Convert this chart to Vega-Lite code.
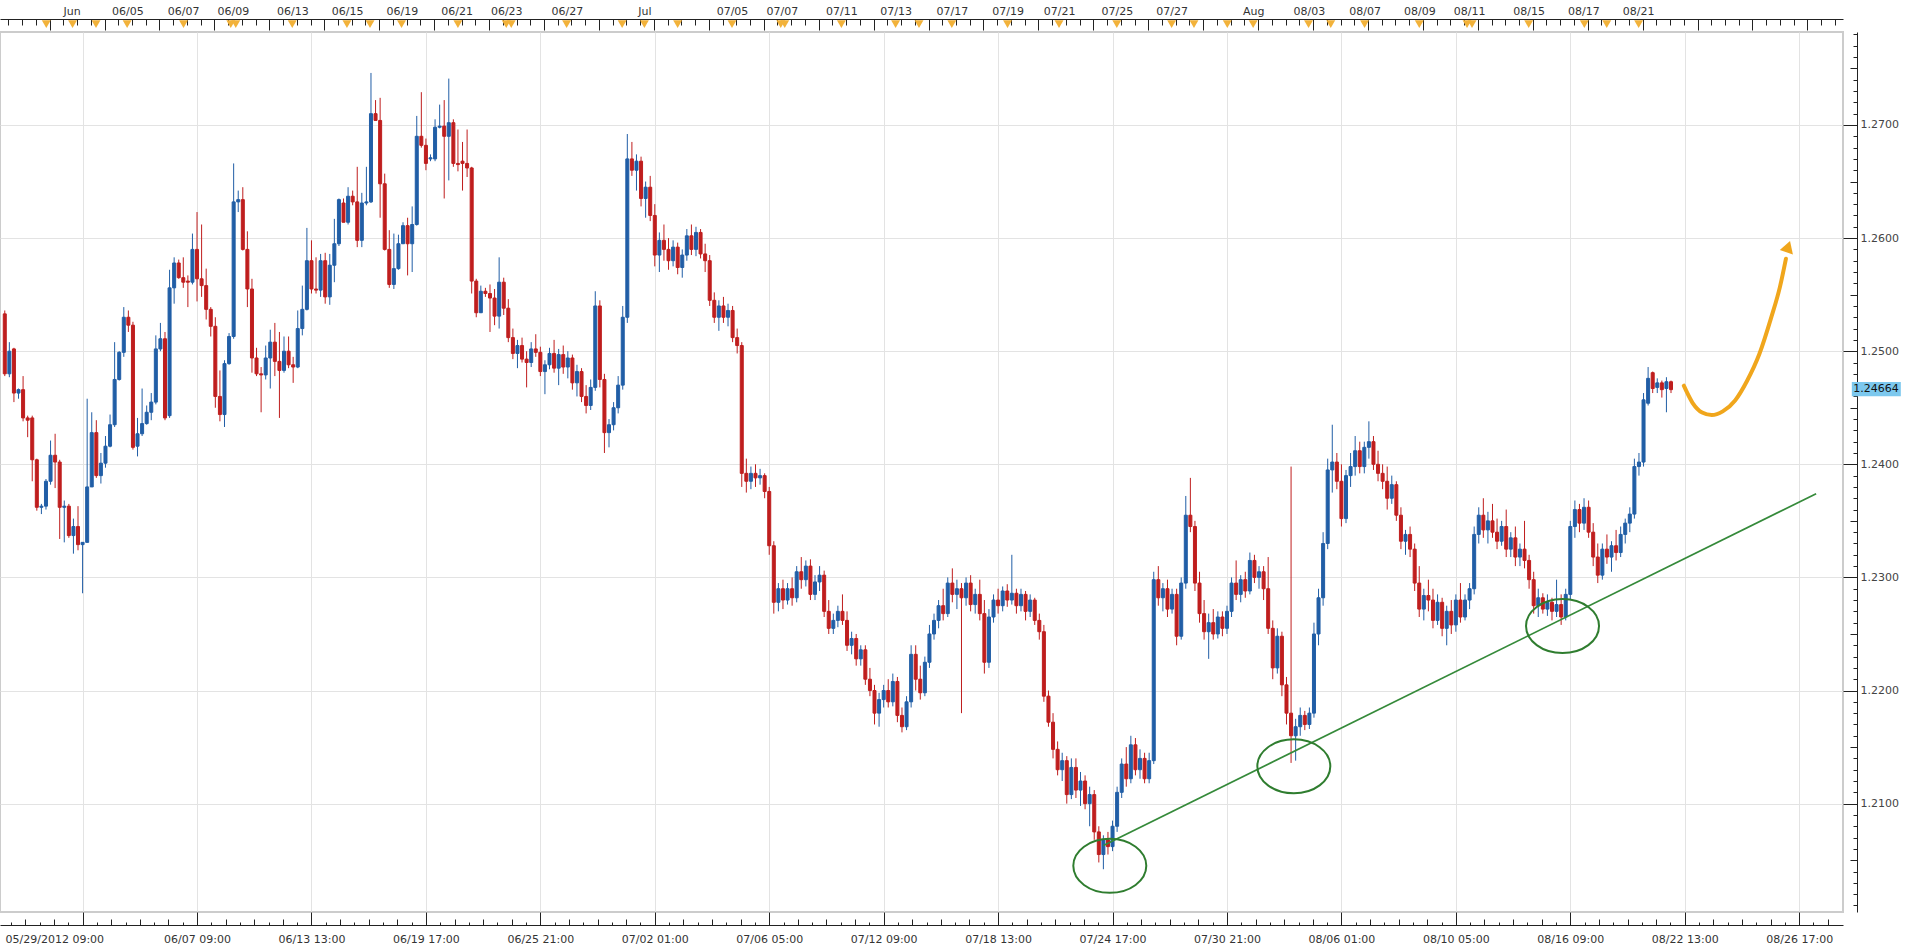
{
"$schema": "https://vega.github.io/schema/vega-lite/v6.json",
"width": 1843, "height": 880,
"autosize": {"type": "none"},
"padding": {"left": 0, "top": 32, "right": 71, "bottom": 38},
"background": "white",
"config": {"view": {"stroke": "#cccccc", "strokeWidth": 2}, "axis": {"labelFont": "DejaVu Sans", "labelFontSize": 11, "labelColor": "#333333", "domainColor": "#222222", "tickColor": "#222222", "gridColor": "#e3e3e3", "title": null, "labelOverlap": false}},
"datasets": {
"candles": [
{"i":0,"o":1.2533,"h":1.2536,"l":1.2478,"c":1.2480},
{"i":1,"o":1.2480,"h":1.2508,"l":1.2477,"c":1.2500},
{"i":2,"o":1.2502,"h":1.2503,"l":1.2455,"c":1.2463},
{"i":3,"o":1.2463,"h":1.2467,"l":1.2458,"c":1.2466},
{"i":4,"o":1.2466,"h":1.2478,"l":1.2438,"c":1.2441},
{"i":5,"o":1.2441,"h":1.2443,"l":1.2424,"c":1.2439},
{"i":6,"o":1.2441,"h":1.2443,"l":1.2385,"c":1.2404},
{"i":7,"o":1.2404,"h":1.2405,"l":1.2359,"c":1.2362},
{"i":8,"o":1.2362,"h":1.2365,"l":1.2356,"c":1.2363},
{"i":9,"o":1.2363,"h":1.2387,"l":1.2360,"c":1.2385},
{"i":10,"o":1.2385,"h":1.2421,"l":1.2382,"c":1.2408},
{"i":11,"o":1.2408,"h":1.2427,"l":1.2379,"c":1.2402},
{"i":12,"o":1.2402,"h":1.2404,"l":1.2334,"c":1.2362},
{"i":13,"o":1.2362,"h":1.2368,"l":1.2331,"c":1.2363},
{"i":14,"o":1.2363,"h":1.2365,"l":1.2335,"c":1.2337},
{"i":15,"o":1.2337,"h":1.2352,"l":1.2321,"c":1.2345},
{"i":16,"o":1.2345,"h":1.2363,"l":1.2324,"c":1.2329},
{"i":17,"o":1.2329,"h":1.2331,"l":1.2286,"c":1.2331},
{"i":18,"o":1.2331,"h":1.2458,"l":1.2331,"c":1.2380},
{"i":19,"o":1.2380,"h":1.2446,"l":1.2380,"c":1.2428},
{"i":20,"o":1.2428,"h":1.2439,"l":1.2388,"c":1.2390},
{"i":21,"o":1.2390,"h":1.2410,"l":1.2383,"c":1.2401},
{"i":22,"o":1.2401,"h":1.2425,"l":1.2397,"c":1.2416},
{"i":23,"o":1.2416,"h":1.2444,"l":1.2415,"c":1.2435},
{"i":24,"o":1.2435,"h":1.2508,"l":1.2433,"c":1.2475},
{"i":25,"o":1.2475,"h":1.2500,"l":1.2474,"c":1.2499},
{"i":26,"o":1.2499,"h":1.2539,"l":1.2495,"c":1.2530},
{"i":27,"o":1.2530,"h":1.2536,"l":1.2517,"c":1.2523},
{"i":28,"o":1.2523,"h":1.2526,"l":1.2413,"c":1.2415},
{"i":29,"o":1.2416,"h":1.2441,"l":1.2407,"c":1.2427},
{"i":30,"o":1.2427,"h":1.2467,"l":1.2425,"c":1.2436},
{"i":31,"o":1.2436,"h":1.2452,"l":1.2435,"c":1.2446},
{"i":32,"o":1.2446,"h":1.2463,"l":1.2439,"c":1.2455},
{"i":33,"o":1.2455,"h":1.2514,"l":1.2453,"c":1.2502},
{"i":34,"o":1.2502,"h":1.2525,"l":1.2500,"c":1.2511},
{"i":35,"o":1.2511,"h":1.2517,"l":1.2439,"c":1.2441},
{"i":36,"o":1.2443,"h":1.2572,"l":1.2441,"c":1.2556},
{"i":37,"o":1.2556,"h":1.2583,"l":1.2542,"c":1.2578},
{"i":38,"o":1.2578,"h":1.2581,"l":1.2564,"c":1.2565},
{"i":39,"o":1.2565,"h":1.2583,"l":1.2556,"c":1.2561},
{"i":40,"o":1.2562,"h":1.2567,"l":1.2539,"c":1.2561},
{"i":41,"o":1.2561,"h":1.2604,"l":1.2559,"c":1.2590},
{"i":42,"o":1.2590,"h":1.2623,"l":1.2544,"c":1.2564},
{"i":43,"o":1.2564,"h":1.2612,"l":1.2548,"c":1.2558},
{"i":44,"o":1.2558,"h":1.2573,"l":1.2528,"c":1.2537},
{"i":45,"o":1.2537,"h":1.2539,"l":1.2513,"c":1.2522},
{"i":46,"o":1.2522,"h":1.2530,"l":1.2450,"c":1.2460},
{"i":47,"o":1.2460,"h":1.2483,"l":1.2438,"c":1.2444},
{"i":48,"o":1.2444,"h":1.2492,"l":1.2433,"c":1.2489},
{"i":49,"o":1.2489,"h":1.2516,"l":1.2488,"c":1.2513},
{"i":50,"o":1.2513,"h":1.2666,"l":1.2511,"c":1.2632},
{"i":51,"o":1.2632,"h":1.2642,"l":1.2623,"c":1.2634},
{"i":52,"o":1.2634,"h":1.2645,"l":1.2589,"c":1.2590},
{"i":53,"o":1.2590,"h":1.2606,"l":1.2539,"c":1.2555},
{"i":54,"o":1.2555,"h":1.2564,"l":1.2481,"c":1.2494},
{"i":55,"o":1.2494,"h":1.2503,"l":1.2478,"c":1.2480},
{"i":56,"o":1.2480,"h":1.2486,"l":1.2446,"c":1.2479},
{"i":57,"o":1.2479,"h":1.2505,"l":1.2475,"c":1.2494},
{"i":58,"o":1.2494,"h":1.2519,"l":1.2467,"c":1.2508},
{"i":59,"o":1.2508,"h":1.2525,"l":1.2478,"c":1.2491},
{"i":60,"o":1.2491,"h":1.2517,"l":1.2441,"c":1.2483},
{"i":61,"o":1.2483,"h":1.2513,"l":1.2481,"c":1.2500},
{"i":62,"o":1.2500,"h":1.2513,"l":1.2485,"c":1.2488},
{"i":63,"o":1.2488,"h":1.2495,"l":1.2472,"c":1.2486},
{"i":64,"o":1.2486,"h":1.2536,"l":1.2485,"c":1.2520},
{"i":65,"o":1.2520,"h":1.2558,"l":1.2514,"c":1.2537},
{"i":66,"o":1.2537,"h":1.2609,"l":1.2536,"c":1.2580},
{"i":67,"o":1.2580,"h":1.2598,"l":1.2551,"c":1.2555},
{"i":68,"o":1.2555,"h":1.2583,"l":1.2551,"c":1.2554},
{"i":69,"o":1.2554,"h":1.2586,"l":1.2548,"c":1.2580},
{"i":70,"o":1.2580,"h":1.2587,"l":1.2542,"c":1.2548},
{"i":71,"o":1.2548,"h":1.2586,"l":1.2541,"c":1.2576},
{"i":72,"o":1.2576,"h":1.2617,"l":1.2561,"c":1.2595},
{"i":73,"o":1.2595,"h":1.2635,"l":1.2593,"c":1.2634},
{"i":74,"o":1.2631,"h":1.2635,"l":1.2614,"c":1.2614},
{"i":75,"o":1.2614,"h":1.2645,"l":1.2612,"c":1.2637},
{"i":76,"o":1.2637,"h":1.2642,"l":1.2629,"c":1.2632},
{"i":77,"o":1.2632,"h":1.2663,"l":1.2592,"c":1.2598},
{"i":78,"o":1.2598,"h":1.2640,"l":1.2592,"c":1.2631},
{"i":79,"o":1.2631,"h":1.2663,"l":1.2629,"c":1.2632},
{"i":80,"o":1.2632,"h":1.2746,"l":1.2631,"c":1.2710},
{"i":81,"o":1.2710,"h":1.2722,"l":1.2704,"c":1.2704},
{"i":82,"o":1.2704,"h":1.2724,"l":1.2618,"c":1.2648},
{"i":83,"o":1.2648,"h":1.2657,"l":1.2589,"c":1.2590},
{"i":84,"o":1.2590,"h":1.2607,"l":1.2556,"c":1.2559},
{"i":85,"o":1.2559,"h":1.2604,"l":1.2555,"c":1.2573},
{"i":86,"o":1.2573,"h":1.2603,"l":1.2572,"c":1.2595},
{"i":87,"o":1.2595,"h":1.2614,"l":1.2595,"c":1.2611},
{"i":88,"o":1.2611,"h":1.2618,"l":1.2567,"c":1.2595},
{"i":89,"o":1.2595,"h":1.2628,"l":1.2570,"c":1.2612},
{"i":90,"o":1.2612,"h":1.2708,"l":1.2611,"c":1.2690},
{"i":91,"o":1.2690,"h":1.2729,"l":1.2680,"c":1.2682},
{"i":92,"o":1.2682,"h":1.2688,"l":1.2660,"c":1.2666},
{"i":93,"o":1.2670,"h":1.2674,"l":1.2668,"c":1.2671},
{"i":94,"o":1.2670,"h":1.2705,"l":1.2668,"c":1.2698},
{"i":95,"o":1.2698,"h":1.2718,"l":1.2697,"c":1.2699},
{"i":96,"o":1.2699,"h":1.2722,"l":1.2635,"c":1.2690},
{"i":97,"o":1.2690,"h":1.2741,"l":1.2651,"c":1.2702},
{"i":98,"o":1.2702,"h":1.2705,"l":1.2663,"c":1.2666},
{"i":99,"o":1.2666,"h":1.2696,"l":1.2659,"c":1.2665},
{"i":100,"o":1.2668,"h":1.2685,"l":1.2642,"c":1.2666},
{"i":101,"o":1.2666,"h":1.2696,"l":1.2654,"c":1.2662},
{"i":102,"o":1.2662,"h":1.2663,"l":1.2551,"c":1.2562},
{"i":103,"o":1.2562,"h":1.2564,"l":1.2530,"c":1.2534},
{"i":104,"o":1.2534,"h":1.2558,"l":1.2534,"c":1.2553},
{"i":105,"o":1.2553,"h":1.2556,"l":1.2548,"c":1.2551},
{"i":106,"o":1.2551,"h":1.2559,"l":1.2517,"c":1.2547},
{"i":107,"o":1.2547,"h":1.2555,"l":1.2523,"c":1.2531},
{"i":108,"o":1.2531,"h":1.2583,"l":1.2520,"c":1.2561},
{"i":109,"o":1.2561,"h":1.2565,"l":1.2532,"c":1.2538},
{"i":110,"o":1.2538,"h":1.2546,"l":1.2508,"c":1.2512},
{"i":111,"o":1.2512,"h":1.2520,"l":1.2493,"c":1.2498},
{"i":112,"o":1.2498,"h":1.2510,"l":1.2485,"c":1.2505},
{"i":113,"o":1.2505,"h":1.2512,"l":1.2490,"c":1.2493},
{"i":114,"o":1.2493,"h":1.2500,"l":1.2468,"c":1.2490},
{"i":115,"o":1.2490,"h":1.2508,"l":1.2486,"c":1.2502},
{"i":116,"o":1.2502,"h":1.2515,"l":1.2495,"c":1.2499},
{"i":117,"o":1.2499,"h":1.2504,"l":1.2478,"c":1.2482},
{"i":118,"o":1.2482,"h":1.2492,"l":1.2462,"c":1.2488},
{"i":119,"o":1.2488,"h":1.2503,"l":1.2484,"c":1.2498},
{"i":120,"o":1.2498,"h":1.2510,"l":1.2481,"c":1.2485},
{"i":121,"o":1.2485,"h":1.2502,"l":1.2470,"c":1.2497},
{"i":122,"o":1.2497,"h":1.2505,"l":1.2480,"c":1.2486},
{"i":123,"o":1.2486,"h":1.2500,"l":1.2476,"c":1.2494},
{"i":124,"o":1.2494,"h":1.2497,"l":1.2466,"c":1.2472},
{"i":125,"o":1.2472,"h":1.2488,"l":1.2460,"c":1.2482},
{"i":126,"o":1.2482,"h":1.2485,"l":1.2455,"c":1.2460},
{"i":127,"o":1.2460,"h":1.2470,"l":1.2445,"c":1.2452},
{"i":128,"o":1.2452,"h":1.2475,"l":1.2448,"c":1.2468},
{"i":129,"o":1.2468,"h":1.2553,"l":1.2465,"c":1.2540},
{"i":130,"o":1.2540,"h":1.2545,"l":1.2468,"c":1.2475},
{"i":131,"o":1.2475,"h":1.2480,"l":1.2410,"c":1.2428},
{"i":132,"o":1.2428,"h":1.2440,"l":1.2415,"c":1.2435},
{"i":133,"o":1.2435,"h":1.2455,"l":1.2430,"c":1.2450},
{"i":134,"o":1.2450,"h":1.2478,"l":1.2445,"c":1.2470},
{"i":135,"o":1.2470,"h":1.2540,"l":1.2466,"c":1.2530},
{"i":136,"o":1.2530,"h":1.2692,"l":1.2525,"c":1.2670},
{"i":137,"o":1.2670,"h":1.2685,"l":1.2655,"c":1.2660},
{"i":138,"o":1.2660,"h":1.2674,"l":1.2642,"c":1.2668},
{"i":139,"o":1.2668,"h":1.2672,"l":1.2628,"c":1.2635},
{"i":140,"o":1.2635,"h":1.2650,"l":1.2618,"c":1.2645},
{"i":141,"o":1.2645,"h":1.2655,"l":1.2615,"c":1.2620},
{"i":142,"o":1.2620,"h":1.2630,"l":1.2575,"c":1.2585},
{"i":143,"o":1.2585,"h":1.2605,"l":1.2570,"c":1.2598},
{"i":144,"o":1.2598,"h":1.2612,"l":1.2580,"c":1.2590},
{"i":145,"o":1.2590,"h":1.2600,"l":1.2572,"c":1.2580},
{"i":146,"o":1.2580,"h":1.2598,"l":1.2575,"c":1.2592},
{"i":147,"o":1.2592,"h":1.2596,"l":1.2568,"c":1.2574},
{"i":148,"o":1.2574,"h":1.2590,"l":1.2565,"c":1.2585},
{"i":149,"o":1.2585,"h":1.2608,"l":1.2580,"c":1.2602},
{"i":150,"o":1.2602,"h":1.2612,"l":1.2585,"c":1.2590},
{"i":151,"o":1.2590,"h":1.2610,"l":1.2584,"c":1.2605},
{"i":152,"o":1.2605,"h":1.2608,"l":1.2582,"c":1.2586},
{"i":153,"o":1.2586,"h":1.2595,"l":1.2570,"c":1.2580},
{"i":154,"o":1.2580,"h":1.2585,"l":1.2540,"c":1.2545},
{"i":155,"o":1.2545,"h":1.2552,"l":1.2525,"c":1.2530},
{"i":156,"o":1.2530,"h":1.2545,"l":1.2518,"c":1.2540},
{"i":157,"o":1.2540,"h":1.2548,"l":1.2525,"c":1.2530},
{"i":158,"o":1.2530,"h":1.2542,"l":1.2522,"c":1.2536},
{"i":159,"o":1.2536,"h":1.2540,"l":1.2508,"c":1.2512},
{"i":160,"o":1.2512,"h":1.2520,"l":1.2498,"c":1.2505},
{"i":161,"o":1.2505,"h":1.2508,"l":1.2380,"c":1.2392},
{"i":162,"o":1.2392,"h":1.2405,"l":1.2375,"c":1.2385},
{"i":163,"o":1.2385,"h":1.2398,"l":1.2378,"c":1.2392},
{"i":164,"o":1.2392,"h":1.2400,"l":1.2380,"c":1.2388},
{"i":165,"o":1.2388,"h":1.2396,"l":1.2382,"c":1.2390},
{"i":166,"o":1.2390,"h":1.2392,"l":1.2370,"c":1.2376},
{"i":167,"o":1.2376,"h":1.2380,"l":1.2320,"c":1.2328},
{"i":168,"o":1.2328,"h":1.2332,"l":1.2268,"c":1.2278},
{"i":169,"o":1.2278,"h":1.2295,"l":1.2270,"c":1.2290},
{"i":170,"o":1.2290,"h":1.2298,"l":1.2272,"c":1.2280},
{"i":171,"o":1.2280,"h":1.2295,"l":1.2276,"c":1.2290},
{"i":172,"o":1.2290,"h":1.2300,"l":1.2275,"c":1.2282},
{"i":173,"o":1.2282,"h":1.2310,"l":1.2278,"c":1.2305},
{"i":174,"o":1.2305,"h":1.2318,"l":1.2290,"c":1.2298},
{"i":175,"o":1.2298,"h":1.2315,"l":1.2292,"c":1.2310},
{"i":176,"o":1.2310,"h":1.2316,"l":1.2280,"c":1.2285},
{"i":177,"o":1.2285,"h":1.2302,"l":1.2280,"c":1.2296},
{"i":178,"o":1.2296,"h":1.2310,"l":1.2288,"c":1.2302},
{"i":179,"o":1.2302,"h":1.2306,"l":1.2265,"c":1.2270},
{"i":180,"o":1.2270,"h":1.2280,"l":1.2250,"c":1.2255},
{"i":181,"o":1.2255,"h":1.2268,"l":1.2250,"c":1.2262},
{"i":182,"o":1.2262,"h":1.2275,"l":1.2256,"c":1.2270},
{"i":183,"o":1.2270,"h":1.2285,"l":1.2258,"c":1.2262},
{"i":184,"o":1.2262,"h":1.2270,"l":1.2235,"c":1.2240},
{"i":185,"o":1.2240,"h":1.2252,"l":1.2232,"c":1.2246},
{"i":186,"o":1.2246,"h":1.2250,"l":1.2222,"c":1.2228},
{"i":187,"o":1.2228,"h":1.2240,"l":1.2222,"c":1.2236},
{"i":188,"o":1.2236,"h":1.2240,"l":1.2205,"c":1.2210},
{"i":189,"o":1.2210,"h":1.2220,"l":1.2195,"c":1.2200},
{"i":190,"o":1.2200,"h":1.2205,"l":1.2170,"c":1.2180},
{"i":191,"o":1.2180,"h":1.2198,"l":1.2168,"c":1.2192},
{"i":192,"o":1.2192,"h":1.2205,"l":1.2185,"c":1.2200},
{"i":193,"o":1.2200,"h":1.2210,"l":1.2185,"c":1.2190},
{"i":194,"o":1.2190,"h":1.2215,"l":1.2186,"c":1.2208},
{"i":195,"o":1.2208,"h":1.2212,"l":1.2172,"c":1.2178},
{"i":196,"o":1.2178,"h":1.2185,"l":1.2163,"c":1.2168},
{"i":197,"o":1.2168,"h":1.2195,"l":1.2165,"c":1.2190},
{"i":198,"o":1.2190,"h":1.2240,"l":1.2185,"c":1.2232},
{"i":199,"o":1.2232,"h":1.2240,"l":1.2200,"c":1.2210},
{"i":200,"o":1.2210,"h":1.2222,"l":1.2192,"c":1.2198},
{"i":201,"o":1.2198,"h":1.2230,"l":1.2195,"c":1.2225},
{"i":202,"o":1.2225,"h":1.2258,"l":1.2220,"c":1.2250},
{"i":203,"o":1.2250,"h":1.2268,"l":1.2245,"c":1.2262},
{"i":204,"o":1.2262,"h":1.2280,"l":1.2255,"c":1.2275},
{"i":205,"o":1.2275,"h":1.2290,"l":1.2262,"c":1.2268},
{"i":206,"o":1.2268,"h":1.2300,"l":1.2265,"c":1.2295},
{"i":207,"o":1.2295,"h":1.2308,"l":1.2278,"c":1.2285},
{"i":208,"o":1.2285,"h":1.2298,"l":1.2272,"c":1.2290},
{"i":209,"o":1.2290,"h":1.2295,"l":1.2180,"c":1.2282},
{"i":210,"o":1.2282,"h":1.2300,"l":1.2275,"c":1.2295},
{"i":211,"o":1.2295,"h":1.2302,"l":1.2270,"c":1.2276},
{"i":212,"o":1.2276,"h":1.2290,"l":1.2268,"c":1.2285},
{"i":213,"o":1.2285,"h":1.2298,"l":1.2262,"c":1.2268},
{"i":214,"o":1.2268,"h":1.2280,"l":1.2215,"c":1.2225},
{"i":215,"o":1.2225,"h":1.2272,"l":1.2220,"c":1.2265},
{"i":216,"o":1.2265,"h":1.2285,"l":1.2260,"c":1.2280},
{"i":217,"o":1.2280,"h":1.2290,"l":1.2268,"c":1.2275},
{"i":218,"o":1.2275,"h":1.2292,"l":1.2270,"c":1.2288},
{"i":219,"o":1.2288,"h":1.2294,"l":1.2274,"c":1.2280},
{"i":220,"o":1.2280,"h":1.2320,"l":1.2276,"c":1.2286},
{"i":221,"o":1.2286,"h":1.2290,"l":1.2268,"c":1.2275},
{"i":222,"o":1.2275,"h":1.2290,"l":1.2270,"c":1.2285},
{"i":223,"o":1.2285,"h":1.2288,"l":1.2262,"c":1.2270},
{"i":224,"o":1.2270,"h":1.2285,"l":1.2265,"c":1.2280},
{"i":225,"o":1.2280,"h":1.2282,"l":1.2258,"c":1.2262},
{"i":226,"o":1.2262,"h":1.2268,"l":1.2245,"c":1.2252},
{"i":227,"o":1.2252,"h":1.2258,"l":1.2190,"c":1.2195},
{"i":228,"o":1.2195,"h":1.2200,"l":1.2168,"c":1.2172},
{"i":229,"o":1.2172,"h":1.2180,"l":1.2140,"c":1.2148},
{"i":230,"o":1.2148,"h":1.2155,"l":1.2125,"c":1.2130},
{"i":231,"o":1.2130,"h":1.2145,"l":1.2120,"c":1.2138},
{"i":232,"o":1.2138,"h":1.2142,"l":1.2100,"c":1.2108},
{"i":233,"o":1.2108,"h":1.2140,"l":1.2104,"c":1.2132},
{"i":234,"o":1.2132,"h":1.2140,"l":1.2105,"c":1.2112},
{"i":235,"o":1.2112,"h":1.2128,"l":1.2098,"c":1.2120},
{"i":236,"o":1.2120,"h":1.2125,"l":1.2095,"c":1.2100},
{"i":237,"o":1.2100,"h":1.2115,"l":1.2080,"c":1.2108},
{"i":238,"o":1.2108,"h":1.2112,"l":1.2068,"c":1.2075},
{"i":239,"o":1.2075,"h":1.2080,"l":1.2048,"c":1.2055},
{"i":240,"o":1.2055,"h":1.2072,"l":1.2042,"c":1.2068},
{"i":241,"o":1.2068,"h":1.2075,"l":1.2055,"c":1.2062},
{"i":242,"o":1.2062,"h":1.2085,"l":1.2058,"c":1.2080},
{"i":243,"o":1.2080,"h":1.2115,"l":1.2075,"c":1.2110},
{"i":244,"o":1.2110,"h":1.2140,"l":1.2105,"c":1.2135},
{"i":245,"o":1.2135,"h":1.2150,"l":1.2115,"c":1.2122},
{"i":246,"o":1.2122,"h":1.2160,"l":1.2118,"c":1.2152},
{"i":247,"o":1.2152,"h":1.2158,"l":1.2125,"c":1.2130},
{"i":248,"o":1.2130,"h":1.2148,"l":1.2122,"c":1.2140},
{"i":249,"o":1.2140,"h":1.2145,"l":1.2118,"c":1.2122},
{"i":250,"o":1.2122,"h":1.2145,"l":1.2118,"c":1.2138},
{"i":251,"o":1.2138,"h":1.2305,"l":1.2135,"c":1.2298},
{"i":252,"o":1.2298,"h":1.2310,"l":1.2275,"c":1.2282},
{"i":253,"o":1.2282,"h":1.2295,"l":1.2270,"c":1.2290},
{"i":254,"o":1.2290,"h":1.2298,"l":1.2265,"c":1.2272},
{"i":255,"o":1.2272,"h":1.2290,"l":1.2268,"c":1.2285},
{"i":256,"o":1.2285,"h":1.2290,"l":1.2240,"c":1.2248},
{"i":257,"o":1.2248,"h":1.2300,"l":1.2245,"c":1.2295},
{"i":258,"o":1.2295,"h":1.2372,"l":1.2290,"c":1.2355},
{"i":259,"o":1.2355,"h":1.2388,"l":1.2340,"c":1.2345},
{"i":260,"o":1.2345,"h":1.2350,"l":1.2288,"c":1.2295},
{"i":261,"o":1.2295,"h":1.2305,"l":1.2260,"c":1.2268},
{"i":262,"o":1.2268,"h":1.2280,"l":1.2245,"c":1.2252},
{"i":263,"o":1.2252,"h":1.2268,"l":1.2228,"c":1.2260},
{"i":264,"o":1.2260,"h":1.2272,"l":1.2245,"c":1.2250},
{"i":265,"o":1.2250,"h":1.2270,"l":1.2246,"c":1.2265},
{"i":266,"o":1.2265,"h":1.2270,"l":1.2248,"c":1.2255},
{"i":267,"o":1.2255,"h":1.2275,"l":1.2250,"c":1.2270},
{"i":268,"o":1.2270,"h":1.2300,"l":1.2265,"c":1.2295},
{"i":269,"o":1.2295,"h":1.2315,"l":1.2280,"c":1.2285},
{"i":270,"o":1.2285,"h":1.2302,"l":1.2278,"c":1.2298},
{"i":271,"o":1.2298,"h":1.2305,"l":1.2282,"c":1.2288},
{"i":272,"o":1.2288,"h":1.2322,"l":1.2285,"c":1.2315},
{"i":273,"o":1.2315,"h":1.2320,"l":1.2295,"c":1.2300},
{"i":274,"o":1.2300,"h":1.2310,"l":1.2290,"c":1.2305},
{"i":275,"o":1.2305,"h":1.2310,"l":1.2280,"c":1.2290},
{"i":276,"o":1.2290,"h":1.2318,"l":1.2250,"c":1.2255},
{"i":277,"o":1.2255,"h":1.2262,"l":1.2210,"c":1.2220},
{"i":278,"o":1.2220,"h":1.2255,"l":1.2215,"c":1.2248},
{"i":279,"o":1.2248,"h":1.2252,"l":1.2195,"c":1.2205},
{"i":280,"o":1.2205,"h":1.2212,"l":1.2170,"c":1.2180},
{"i":281,"o":1.2180,"h":1.2398,"l":1.2136,"c":1.2160},
{"i":282,"o":1.2160,"h":1.2175,"l":1.2138,"c":1.2168},
{"i":283,"o":1.2168,"h":1.2185,"l":1.2160,"c":1.2178},
{"i":284,"o":1.2178,"h":1.2182,"l":1.2165,"c":1.2170},
{"i":285,"o":1.2170,"h":1.2185,"l":1.2166,"c":1.2180},
{"i":286,"o":1.2180,"h":1.2260,"l":1.2176,"c":1.2250},
{"i":287,"o":1.2250,"h":1.2290,"l":1.2240,"c":1.2282},
{"i":288,"o":1.2282,"h":1.2340,"l":1.2275,"c":1.2330},
{"i":289,"o":1.2330,"h":1.2405,"l":1.2325,"c":1.2395},
{"i":290,"o":1.2395,"h":1.2435,"l":1.2375,"c":1.2402},
{"i":291,"o":1.2402,"h":1.2410,"l":1.2378,"c":1.2385},
{"i":292,"o":1.2385,"h":1.2400,"l":1.2345,"c":1.2352},
{"i":293,"o":1.2352,"h":1.2395,"l":1.2348,"c":1.2390},
{"i":294,"o":1.2390,"h":1.2410,"l":1.2380,"c":1.2398},
{"i":295,"o":1.2398,"h":1.2425,"l":1.2390,"c":1.2412},
{"i":296,"o":1.2412,"h":1.2420,"l":1.2392,"c":1.2398},
{"i":297,"o":1.2398,"h":1.2420,"l":1.2392,"c":1.2415},
{"i":298,"o":1.2415,"h":1.2438,"l":1.2405,"c":1.2420},
{"i":299,"o":1.2420,"h":1.2425,"l":1.2395,"c":1.2400},
{"i":300,"o":1.2400,"h":1.2412,"l":1.2385,"c":1.2392},
{"i":301,"o":1.2392,"h":1.2400,"l":1.2378,"c":1.2385},
{"i":302,"o":1.2385,"h":1.2398,"l":1.2360,"c":1.2370},
{"i":303,"o":1.2370,"h":1.2390,"l":1.2365,"c":1.2382},
{"i":304,"o":1.2382,"h":1.2385,"l":1.2350,"c":1.2355},
{"i":305,"o":1.2355,"h":1.2362,"l":1.2325,"c":1.2332},
{"i":306,"o":1.2332,"h":1.2342,"l":1.2320,"c":1.2338},
{"i":307,"o":1.2338,"h":1.2345,"l":1.2318,"c":1.2325},
{"i":308,"o":1.2325,"h":1.2330,"l":1.2288,"c":1.2295},
{"i":309,"o":1.2295,"h":1.2310,"l":1.2265,"c":1.2272},
{"i":310,"o":1.2272,"h":1.2290,"l":1.2262,"c":1.2284},
{"i":311,"o":1.2284,"h":1.2298,"l":1.2270,"c":1.2280},
{"i":312,"o":1.2280,"h":1.2290,"l":1.2255,"c":1.2262},
{"i":313,"o":1.2262,"h":1.2285,"l":1.2258,"c":1.2278},
{"i":314,"o":1.2278,"h":1.2282,"l":1.2248,"c":1.2255},
{"i":315,"o":1.2255,"h":1.2275,"l":1.2240,"c":1.2270},
{"i":316,"o":1.2270,"h":1.2280,"l":1.2250,"c":1.2258},
{"i":317,"o":1.2258,"h":1.2285,"l":1.2252,"c":1.2280},
{"i":318,"o":1.2280,"h":1.2295,"l":1.2260,"c":1.2265},
{"i":319,"o":1.2265,"h":1.2285,"l":1.2262,"c":1.2280},
{"i":320,"o":1.2280,"h":1.2295,"l":1.2272,"c":1.2290},
{"i":321,"o":1.2290,"h":1.2345,"l":1.2285,"c":1.2338},
{"i":322,"o":1.2338,"h":1.2362,"l":1.2330,"c":1.2355},
{"i":323,"o":1.2355,"h":1.2370,"l":1.2335,"c":1.2342},
{"i":324,"o":1.2342,"h":1.2358,"l":1.2330,"c":1.2350},
{"i":325,"o":1.2350,"h":1.2365,"l":1.2335,"c":1.2340},
{"i":326,"o":1.2340,"h":1.2352,"l":1.2325,"c":1.2332},
{"i":327,"o":1.2332,"h":1.2350,"l":1.2328,"c":1.2345},
{"i":328,"o":1.2345,"h":1.2360,"l":1.2318,"c":1.2325},
{"i":329,"o":1.2325,"h":1.2340,"l":1.2318,"c":1.2335},
{"i":330,"o":1.2335,"h":1.2345,"l":1.2310,"c":1.2318},
{"i":331,"o":1.2318,"h":1.2330,"l":1.2310,"c":1.2325},
{"i":332,"o":1.2325,"h":1.2350,"l":1.2308,"c":1.2315},
{"i":333,"o":1.2315,"h":1.2320,"l":1.2290,"c":1.2298},
{"i":334,"o":1.2298,"h":1.2305,"l":1.2268,"c":1.2275},
{"i":335,"o":1.2275,"h":1.2290,"l":1.2265,"c":1.2282},
{"i":336,"o":1.2282,"h":1.2286,"l":1.2268,"c":1.2272},
{"i":337,"o":1.2272,"h":1.2285,"l":1.2266,"c":1.2278},
{"i":338,"o":1.2278,"h":1.2282,"l":1.2262,"c":1.2270},
{"i":339,"o":1.2270,"h":1.2298,"l":1.2265,"c":1.2276},
{"i":340,"o":1.2276,"h":1.2285,"l":1.2258,"c":1.2265},
{"i":341,"o":1.2265,"h":1.2290,"l":1.2262,"c":1.2285},
{"i":342,"o":1.2285,"h":1.2350,"l":1.2280,"c":1.2345},
{"i":343,"o":1.2345,"h":1.2368,"l":1.2335,"c":1.2360},
{"i":344,"o":1.2360,"h":1.2365,"l":1.2340,"c":1.2348},
{"i":345,"o":1.2348,"h":1.2370,"l":1.2342,"c":1.2362},
{"i":346,"o":1.2362,"h":1.2368,"l":1.2335,"c":1.2340},
{"i":347,"o":1.2340,"h":1.2348,"l":1.2310,"c":1.2318},
{"i":348,"o":1.2318,"h":1.2330,"l":1.2295,"c":1.2302},
{"i":349,"o":1.2302,"h":1.2330,"l":1.2298,"c":1.2325},
{"i":350,"o":1.2325,"h":1.2338,"l":1.2312,"c":1.2318},
{"i":351,"o":1.2318,"h":1.2332,"l":1.2305,"c":1.2328},
{"i":352,"o":1.2328,"h":1.2342,"l":1.2315,"c":1.2322},
{"i":353,"o":1.2322,"h":1.2345,"l":1.2318,"c":1.2338},
{"i":354,"o":1.2338,"h":1.2352,"l":1.2330,"c":1.2348},
{"i":355,"o":1.2348,"h":1.2362,"l":1.2340,"c":1.2356},
{"i":356,"o":1.2356,"h":1.2405,"l":1.2352,"c":1.2398},
{"i":357,"o":1.2398,"h":1.2410,"l":1.2390,"c":1.2402},
{"i":358,"o":1.2402,"h":1.2463,"l":1.2398,"c":1.2457},
{"i":359,"o":1.2454,"h":1.2486,"l":1.2452,"c":1.2476},
{"i":360,"o":1.2481,"h":1.2482,"l":1.2463,"c":1.2467},
{"i":361,"o":1.2468,"h":1.2476,"l":1.2463,"c":1.2472},
{"i":362,"o":1.2472,"h":1.2474,"l":1.2459,"c":1.2466},
{"i":363,"o":1.2467,"h":1.2477,"l":1.2446,"c":1.2473},
{"i":364,"o":1.2473,"h":1.2474,"l":1.2463,"c":1.2466}
],
"trend": [{"x": 240.0, "y": 1.2063}, {"x": 395.7, "y": 1.2374}],
"ellipses": [{"x": 241.4, "y": 1.2045}, {"x": 281.6, "y": 1.2133}, {"x": 340.3, "y": 1.2257}],
"arrow": [{"x": 366.8, "y": 1.24695}, {"x": 368.7, "y": 1.24544}, {"x": 370.8, "y": 1.24458}, {"x": 372.9, "y": 1.24436}, {"x": 375.3, "y": 1.24468}, {"x": 378.0, "y": 1.24565}, {"x": 380.6, "y": 1.24737}, {"x": 383.3, "y": 1.24975}, {"x": 385.9, "y": 1.25299}, {"x": 387.8, "y": 1.25569}, {"x": 389.1, "y": 1.25817}],
"head": [{"x": 389.6, "y": 1.25925}],
"markers": [{"x":9.07},{"x":14.81},{"x":19.93},{"x":26.73},{"x":39.05},{"x":49.37},{"x":50.46},{"x":62.80},{"x":74.75},{"x":79.79},{"x":86.68},{"x":98.99},{"x":109.55},{"x":110.64},{"x":122.74},{"x":134.87},{"x":139.73},{"x":146.99},{"x":158.87},{"x":169.52},{"x":170.39},{"x":182.77},{"x":194.61},{"x":199.72},{"x":206.89},{"x":219.06},{"x":230.31},{"x":242.93},{"x":254.91},{"x":259.79},{"x":267.07},{"x":272.72},{"x":284.82},{"x":289.67},{"x":297.06},{"x":309.01},{"x":319.44},{"x":320.53},{"x":332.91},{"x":345.07},{"x":349.96},{"x":356.93}],
"last": [{"p": 1.24664, "label": "1.24664"}]
},
"resolve": {"axis": {"x": "independent", "y": "independent"}},
"layer": [
{"data": {"name": "candles"}, "mark": {"type": "rule", "strokeWidth": 1},
 "encoding": {
  "x": {"field": "i", "type": "quantitative", "scale": {"domain": [0.05, 400.48], "nice": false, "zero": false},
   "axis": {"orient": "bottom", "offset": 13, "values": [0.05, 42, 67, 92, 117, 142, 167, 192, 217, 242, 267, 292, 317, 342, 367, 392], "labelExpr": "datum.value < 1 ? '05/29/2012 09:00' : ['06/07 09:00','06/13 13:00','06/19 17:00','06/25 21:00','07/02 01:00','07/06 05:00','07/12 09:00','07/18 13:00','07/24 17:00','07/30 21:00','08/06 01:00','08/10 05:00','08/16 09:00','08/22 13:00','08/26 17:00'][round((datum.value - 42) / 25)]", "labelAlign": {"condition": {"test": "datum.value < 1", "value": "left"}, "value": "center"}, "ticks": false, "grid": false, "domain": true, "labelPadding": 8}},
  "y": {"field": "l", "type": "quantitative", "scale": {"domain": [1.20042, 1.27822], "nice": false, "zero": false},
   "axis": {"orient": "right", "offset": 14, "values": [1.21, 1.22, 1.23, 1.24, 1.25, 1.26, 1.27], "format": ".4f", "ticks": false, "grid": true, "domain": true, "labelPadding": 3, "labelColor": "#444444"}},
  "y2": {"field": "h"},
  "color": {"condition": {"test": "datum.c >= datum.o", "value": "#215ea6"}, "value": "#bf1e1e"}
 }},
{"data": {"name": "candles"}, "mark": {"type": "bar", "size": 3, "strokeWidth": 1},
 "encoding": {
  "x": {"field": "i", "type": "quantitative", "scale": {"domain": [0.05, 400.48], "nice": false, "zero": false},
   "axis": {"orient": "bottom", "offset": 13, "values": [17, 42, 67, 92, 117, 142, 167, 192, 217, 242, 267, 292, 317, 342, 367, 392], "tickSize": -13, "labels": false, "domain": false, "grid": true}},
  "y": {"field": "o", "type": "quantitative", "scale": {"domain": [1.20042, 1.27822], "nice": false, "zero": false},
   "axis": {"orient": "right", "offset": 14, "values": [1.21, 1.22, 1.23, 1.24, 1.25, 1.26, 1.27], "tickSize": -14, "labels": false, "domain": false, "grid": false}},
  "y2": {"field": "c"},
  "color": {"condition": {"test": "datum.c >= datum.o", "value": "#215ea6"}, "value": "#bf1e1e"},
  "stroke": {"condition": {"test": "datum.c >= datum.o", "value": "#215ea6"}, "value": "#bf1e1e"}
 }},
{"data": {"name": "trend"}, "mark": {"type": "line", "color": "#358a3a", "strokeWidth": 1.7},
 "encoding": {
  "x": {"field": "x", "type": "quantitative", "scale": {"domain": [0.05, 400.48], "nice": false, "zero": false},
   "axis": {"orient": "bottom", "offset": 13, "values": {"expr": "sequence(4.5, 401, 6.25)"}, "tickSize": -6, "labels": false, "domain": false, "grid": false}},
  "y": {"field": "y", "type": "quantitative", "scale": {"domain": [1.20042, 1.27822], "nice": false, "zero": false},
   "axis": {"orient": "right", "offset": 14, "values": {"expr": "sequence(1.205, 1.2782, 0.005)"}, "tickSize": -7, "labels": false, "domain": false, "grid": false}}
 }},
{"data": {"name": "ellipses"}, "mark": {"type": "point", "shape": "M -1 0 A 1 0.74 0 1 0 1 0 A 1 0.74 0 1 0 -1 0 Z", "size": 5329, "filled": false, "stroke": "#2f7d2f", "strokeWidth": 2, "opacity": 1},
 "encoding": {
  "x": {"field": "x", "type": "quantitative", "scale": {"domain": [0.05, 400.48], "nice": false, "zero": false},
   "axis": {"orient": "bottom", "offset": 13, "values": {"expr": "sequence(1.375, 401, 3.125)"}, "tickSize": -3, "labels": false, "domain": false, "grid": false}},
  "y": {"field": "y", "type": "quantitative", "scale": {"domain": [1.20042, 1.27822], "nice": false, "zero": false},
   "axis": {"orient": "right", "offset": 14, "values": {"expr": "sequence(1.201, 1.2782, 0.001)"}, "tickSize": -4, "labels": false, "domain": false, "grid": false}}
 }},
{"data": {"name": "arrow"}, "mark": {"type": "line", "color": "#f0a61c", "strokeWidth": 4, "interpolate": "monotone", "strokeCap": "round"},
 "encoding": {
  "x": {"field": "x", "type": "quantitative", "scale": {"domain": [0.05, 400.48], "nice": false, "zero": false},
   "axis": {"orient": "top", "offset": 13, "values": [14.6, 26.78, 38.94, 49.81, 62.84, 74.79, 86.74, 98.69, 109.55, 122.81, 139.75, 158.87, 169.74, 182.77, 194.61, 206.89, 219.06, 230.35, 242.95, 254.91, 272.72, 284.89, 297.06, 309.01, 319.88, 332.91, 344.86, 356.8], "labelExpr": "['Jun','06/05','06/07','06/09','06/13','06/15','06/19','06/21','06/23','06/27','Jul','07/05','07/07','07/11','07/13','07/17','07/19','07/21','07/25','07/27','Aug','08/03','08/07','08/09','08/11','08/15','08/17','08/21'][indexof([14.6, 26.78, 38.94, 49.81, 62.84, 74.79, 86.74, 98.69, 109.55, 122.81, 139.75, 158.87, 169.74, 182.77, 194.61, 206.89, 219.06, 230.35, 242.95, 254.91, 272.72, 284.89, 297.06, 309.01, 319.88, 332.91, 344.86, 356.8], datum.value)]", "ticks": false, "grid": false, "domain": true, "labelPadding": 3}},
  "y": {"field": "y", "type": "quantitative", "scale": {"domain": [1.20042, 1.27822], "nice": false, "zero": false}, "axis": null}
 }},
{"data": {"name": "head"}, "mark": {"type": "point", "shape": "triangle-up", "size": 190, "filled": true, "color": "#f0a61c", "opacity": 1, "angle": 18},
 "encoding": {
  "x": {"field": "x", "type": "quantitative", "scale": {"domain": [0.05, 400.48], "nice": false, "zero": false},
   "axis": {"orient": "top", "offset": 13, "values": {"expr": "sequence(0.8, 401, 3)"}, "tickSize": -6, "labels": false, "domain": false, "grid": false}},
  "y": {"field": "y", "type": "quantitative", "scale": {"domain": [1.20042, 1.27822], "nice": false, "zero": false}, "axis": null}
 }},
{"data": {"name": "markers"}, "mark": {"type": "point", "shape": "triangle-down", "size": 80, "filled": true, "color": "#f2b23a", "opacity": 1},
 "encoding": {
  "x": {"field": "x", "type": "quantitative", "scale": {"domain": [0.05, 400.48], "nice": false, "zero": false},
   "axis": {"orient": "top", "offset": 13, "values": {"expr": "sequence(9.8, 401, 12)"}, "tickSize": -11, "labels": false, "domain": false, "grid": false}},
  "y": {"datum": 1.27892, "type": "quantitative", "scale": {"domain": [1.20042, 1.27822], "nice": false, "zero": false}, "axis": null}
 }},
{"data": {"name": "last"}, "mark": {"type": "point", "shape": "M -1 -0.29 L 1 -0.29 L 1 0.29 L -1 0.29 Z", "size": 2401, "filled": true, "color": "#7cc8ee", "opacity": 1},
 "encoding": {
  "x": {"datum": 408.85, "type": "quantitative", "scale": {"domain": [0.05, 400.48], "nice": false, "zero": false}, "axis": null},
  "y": {"field": "p", "type": "quantitative", "scale": {"domain": [1.20042, 1.27822], "nice": false, "zero": false}, "axis": null}
 }},
{"data": {"name": "last"}, "mark": {"type": "text", "align": "left", "baseline": "middle", "font": "DejaVu Sans", "fontSize": 11, "color": "#111111"},
 "encoding": {
  "x": {"datum": 403.8, "type": "quantitative", "scale": {"domain": [0.05, 400.48], "nice": false, "zero": false}, "axis": null},
  "y": {"field": "p", "type": "quantitative", "scale": {"domain": [1.20042, 1.27822], "nice": false, "zero": false}, "axis": null},
  "text": {"field": "label"}
 }}
]
}
